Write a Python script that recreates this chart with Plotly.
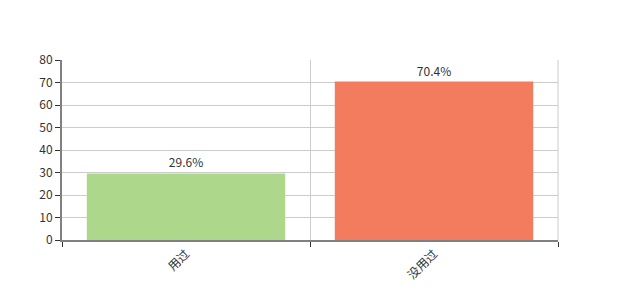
import plotly.graph_objects as go

categories = ["用过", "没用过"]
values = [29.6, 70.4]
labels = ["29.6%", "70.4%"]
colors = ["#add78a", "#f37b5e"]

fig = go.Figure()
fig.add_trace(go.Bar(
    x=categories, y=values, text=labels, textposition="outside",
    marker=dict(color=colors, line=dict(width=0)),
    textfont=dict(size=12, color="#333333"),
    cliponaxis=False, width=0.8,
))
fig.update_layout(
    width=620, height=300,
    margin=dict(l=62, r=62, t=60, b=60),
    paper_bgcolor="white", plot_bgcolor="white",
    showlegend=False,
    font=dict(family="Noto Sans CJK SC, DejaVu Sans, sans-serif", size=12, color="#333333"),
)
fig.update_xaxes(
    type="category", tickson="boundaries", showgrid=True, gridcolor="#cccccc",
    ticks="outside", ticklen=5, tickcolor="#333333",
    showline=True, linecolor="#808080", linewidth=2,
    tickangle=-45, mirror=False,
)
fig.update_yaxes(
    range=[0, 80], dtick=10, showgrid=True, gridcolor="#cccccc",
    ticks="outside", ticklen=5, tickcolor="#333333",
    showline=True, linecolor="#808080", linewidth=2,
    zeroline=False,
)
# right border line
fig.add_shape(type="line", xref="paper", yref="paper", x0=1, x1=1, y0=0, y1=1,
              line=dict(color="#cccccc", width=1))
fig.write_html("out.html")
